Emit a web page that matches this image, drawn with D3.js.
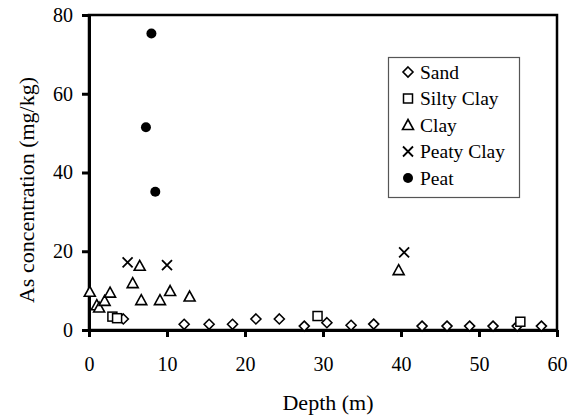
<!DOCTYPE html>
<html>
<head>
<meta charset="utf-8">
<script src="https://cdn.jsdelivr.net/npm/d3@7"></script>
<style>
  body { margin: 0; background: #fff; }
  svg { display: block; }
  text { font-family: "Liberation Serif", "DejaVu Serif", serif; fill: #000; }
  .axis path, .axis line { stroke: #000; stroke-width: 3; }
  .axis text { font-size: 20px; }
</style>
</head>
<body>
<svg id="chart" width="570" height="420"></svg>
<script>
// depth (m) and As concentration (mg/kg)
var sandDepth = [4.4, 12.2, 15.4, 18.4, 21.4, 24.4, 27.6, 30.5, 33.6, 36.5, 42.7, 45.9, 48.8, 51.8, 54.9, 58.0];
var sandAs    = [2.8, 1.45, 1.45, 1.45, 2.8, 2.8, 1.0, 1.85, 1.2, 1.5, 1.0, 1.0, 1.0, 1.0, 1.0, 1.0];

var siltyDepth = [3.0, 3.6, 29.3, 55.3];
var siltyAs    = [3.4, 3.0, 3.55, 2.1];

var clayDepth = [0.1, 1.0, 1.3, 2.0, 2.7, 5.6, 6.5, 6.7, 9.1, 10.4, 12.9, 39.7];
var clayAs    = [9.7, 6.3, 5.7, 7.4, 9.5, 11.9, 16.3, 7.6, 7.6, 9.9, 8.5, 15.2];

var peatyDepth = [4.95, 10.0, 40.4];
var peatyAs    = [17.2, 16.5, 19.7];

var peatDepth = [8.0, 7.3, 8.5];
var peatAs    = [75.3, 51.5, 35.1];

var seriesNames = ['Sand', 'Silty Clay', 'Clay', 'Peaty Clay', 'Peat'];
var xTicks = [0, 10, 20, 30, 40, 50, 60];
var yTicks = [0, 20, 40, 60, 80];

(function(){

var svg = d3.select('#chart');

// plot area box (note: 'top' would clash with window.top)
var pLeft = 89, pRight = 557, pTop = 15, pBottom = 330;

var x = d3.scaleLinear().domain([0, 60]).range([pLeft, pRight]);
var y = d3.scaleLinear().domain([0, 80]).range([pBottom, pTop]);

function pairs(xs, ys){
  return xs.map(function(d, i){ return [d, ys[i]]; });
}

var series = [
  { name: seriesNames[0], pts: pairs(sandDepth, sandAs),   shape: 'diamond' },
  { name: seriesNames[1], pts: pairs(siltyDepth, siltyAs), shape: 'square' },
  { name: seriesNames[2], pts: pairs(clayDepth, clayAs),   shape: 'triangle' },
  { name: seriesNames[3], pts: pairs(peatyDepth, peatyAs), shape: 'cross' },
  { name: seriesNames[4], pts: pairs(peatDepth, peatAs),   shape: 'dot' }
];

// plot area frame
svg.append('rect')
  .attr('x', pLeft).attr('y', pTop)
  .attr('width', pRight - pLeft).attr('height', pBottom - pTop)
  .attr('fill', 'none')
  .attr('stroke', '#000')
  .attr('stroke-width', 2.5);

// marker drawing, one branch per excel-ish marker style
function marker(g, shape){
  if ( shape == 'diamond' ){
    g.append('path').attr('d', 'M0,-5L5,0L0,5L-5,0Z')
      .attr('fill', '#fff').attr('stroke', '#000').attr('stroke-width', 1.6);
  } else if ( shape == 'square' ){
    g.append('rect').attr('x', -4.5).attr('y', -4.5).attr('width', 9).attr('height', 9)
      .attr('fill', '#fff').attr('stroke', '#000').attr('stroke-width', 1.5);
  } else if ( shape == 'triangle' ){
    g.append('path').attr('d', 'M0,-5.5L5.5,4.5L-5.5,4.5Z')
      .attr('fill', '#fff').attr('stroke', '#000').attr('stroke-width', 1.6);
  } else if ( shape == 'cross' ){
    g.append('path').attr('d', 'M-5,-5L5,5M5,-5L-5,5')
      .attr('fill', 'none').attr('stroke', '#000').attr('stroke-width', 1.8);
  } else {
    g.append('circle').attr('r', 5).attr('fill', '#000');
  }
}

// axes
var xAxis = d3.axisBottom(x)
  .tickValues(xTicks)
  .tickSize(7)
  .tickSizeOuter(0)
  .tickPadding(20);

var yAxis = d3.axisLeft(y)
  .tickValues(yTicks)
  .tickSize(7)
  .tickSizeOuter(0)
  .tickPadding(9);

svg.append('g')
  .attr('class', 'axis')
  .attr('transform', 'translate(0,' + pBottom + ')')
  .call(xAxis);

svg.append('g')
  .attr('class', 'axis')
  .attr('transform', 'translate(' + pLeft + ',0)')
  .call(yAxis);

// points
series.forEach(function(s){
  var g = svg.append('g').attr('class', 'series');
  g.selectAll('g')
    .data(s.pts)
    .enter().append('g')
    .attr('transform', function(d){ return 'translate(' + x(d[0]) + ',' + y(d[1]) + ')'; })
    .each(function(){ marker(d3.select(this), s.shape); });
});

// axis titles
svg.append('text')
  .attr('x', 328).attr('y', 410)
  .attr('text-anchor', 'middle')
  .style('font-size', '22px')
  .text('Depth (m)');

svg.append('text')
  .attr('transform', 'translate(34,190) rotate(-90)')
  .attr('text-anchor', 'middle')
  .style('font-size', '22px')
  .text('As concentration (mg/kg)');

// legend
var legend = svg.append('g').attr('class', 'legend');
legend.append('rect')
  .attr('x', 388.5).attr('y', 57.5)
  .attr('width', 131).attr('height', 140)
  .attr('fill', '#fff')
  .attr('stroke', '#555')
  .attr('stroke-width', 1.2);

var item = legend.selectAll('g.item')
  .data(series)
  .enter().append('g')
  .attr('class', 'item')
  .attr('transform', function(d, i){ return 'translate(408,' + (72 + i * 26.5) + ')'; });

item.each(function(d){ marker(d3.select(this), d.shape); });

item.append('text')
  .attr('x', 12)
  .attr('dy', '0.35em')
  .style('font-size', '19.5px')
  .text(function(d){ return d.name; });

})();
</script>
</body>
</html>
